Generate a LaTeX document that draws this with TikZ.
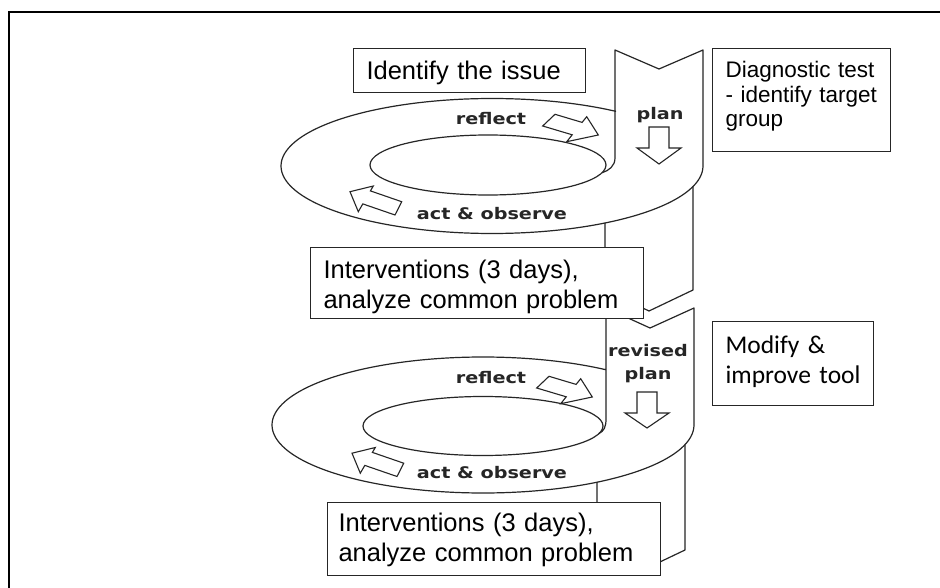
\documentclass[tikz,border=0pt]{standalone}
\usepackage{fontspec}
\setmainfont{Liberation Sans}
\newfontfamily\calfont{Carlito}
\newfontfamily\lblfont{DejaVu Sans}
\newcommand{\tstrut}[1]{\rule{0pt}{#1pt}}
\newcommand{\bstrut}[1]{\rule[-#1pt]{0pt}{#1pt}}
\begin{document}
\begin{tikzpicture}[x=1pt,y=-1pt,
  ribbon/.style={draw=black!85,line width=1.2pt,line join=round},
  tbox/.style={draw=black!85,line width=1.1pt,fill=white,anchor=north west,align=left,inner ysep=0pt,inner xsep=13pt,font=\fontsize{25.5}{29.5}\selectfont},
  lbl/.style={font=\lblfont\bfseries\fontsize{16}{20}\selectfont,text=black!85,xscale=1.2,inner sep=0pt},
  barrow/.style={draw=black!85,line width=1.1pt,fill=white,line join=miter},
  reflarrow/.pic={\draw[barrow] (-55.6,-9) -- (-43.3,-20.7) -- (-16.2,-12.6) -- (-11.6,-18.3) -- (0,0) -- (-31.6,6.7) -- (-26.1,-0.2) -- cycle;},
  actarrow/.pic={\draw[barrow] (0,0) -- (23.3,-5.7) -- (20.4,-0.8) -- (51.7,10) -- (45,23.3) -- (12.8,12.2) -- (8.3,20) -- cycle;}]
\useasboundingbox (0,0) rectangle (940,588);
\clip (0,0) rectangle (940,588);
\fill[white] (0,0) rectangle (940,588);
\draw[line width=2.3pt] (9,12) rectangle (980,640);

% ---- first loop ----
\draw[ribbon] (602,172.8) .. controls (609,170.5) and (615,166) .. (615,158) -- (615,50) -- (659,69) -- (703,50) -- (703,166)
  -- plot[smooth,domain=0:306,samples=120,variable=\t] ({492+211*cos(\t)},{166+67.5*sin(\t)});
\draw[ribbon] (488,165) ellipse [x radius=118, y radius=30];
\draw[ribbon] (605,223) -- (605,290) -- (649,311) -- (693,290) -- (693,186.5);

% ---- second loop ----
\draw[ribbon] (598.9,433.6) .. controls (604,431) and (606,427) .. (606,419) -- (606,308) -- (650,328) -- (694,308) -- (694,425)
  -- plot[smooth,domain=0:305.7,samples=120,variable=\t] ({483+211*cos(\t)},{425+68*sin(\t)});
\draw[ribbon] (483,426) ellipse [x radius=120, y radius=29.5];
\draw[ribbon] (597,482.2) -- (597,550) -- (641,571) -- (685,550) -- (685,444.6);

% ---- block arrows ----
\pic at (598.3,135) {reflarrow};
\pic at (592.3,397) {reflarrow};
\pic at (350,191.7) {actarrow};
\pic at (352,453.2) {actarrow};
\draw[barrow] (649,127) -- (669,127) -- (669,148) -- (681,148) -- (659,164) -- (637,148) -- (649,148) -- cycle;
\draw[barrow] (637,392) -- (657,392) -- (657,413) -- (669,413) -- (647,428) -- (625,413) -- (637,413) -- cycle;

% ---- labels ----
\node[lbl] (refl1) at (491,118.5) {reflect};
\node[lbl] (plan1) at (660,115.5) {plan};
\node[lbl] (act1) at (492,213.5) {act \& observe};
\node[lbl] (refl2) at (491,377.5) {reflect};
\node[lbl,align=center,font=\lblfont\bfseries\fontsize{16}{23}\selectfont] (rplan) at (648,364) {revised\\plan};
\node[lbl] (act2) at (492,472.5) {act \& observe};

% ---- text boxes ----
\node[tbox,text width=206pt] (issue) at (353,48) {\tstrut{31}Identify the issue\bstrut{13}};
\node[tbox,text width=307pt] (int1) at (310,247) {\tstrut{31}Interventions (3 days),\\analyze common problem\bstrut{10.5}};
\node[tbox,inner xsep=11pt,text width=311pt] (int2) at (327,502) {\tstrut{29}Interventions (3 days),\\analyze common problem\bstrut{14.5}};
\node[tbox,text width=152pt,font=\fontsize{22.5}{24.5}\selectfont] (diag) at (712,48) {\tstrut{29}Diagnostic test\\- identify target\\group\bstrut{25}};
\node[tbox,text width=135pt,font=\calfont\fontsize{25.5}{30}\selectfont] (mod) at (712,321) {\tstrut{31.7}Modify \&\\improve tool\bstrut{22.3}};
\end{tikzpicture}
\end{document}
